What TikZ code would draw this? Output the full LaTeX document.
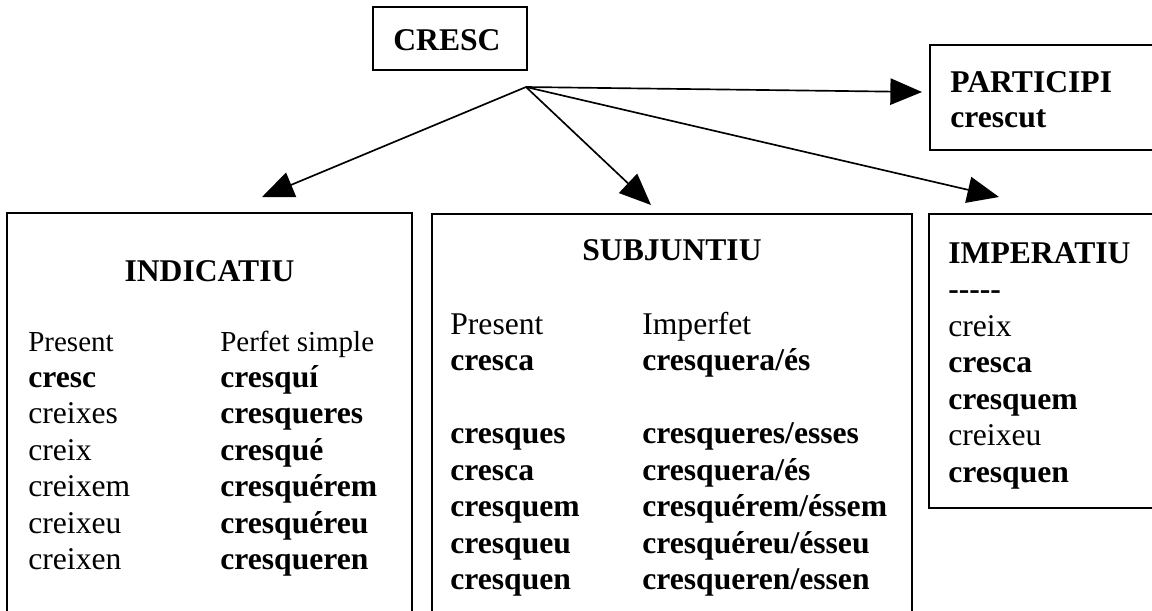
\documentclass[tikz,border=0pt]{standalone}
\usepackage{fontspec}
\setmainfont{Liberation Serif}
\usetikzlibrary{arrows.meta,fit}

\begin{document}
\begin{tikzpicture}[x=0.02cm, y=-0.02cm,
    box/.style={draw, line width=1.6pt, inner sep=0pt},
    word/.style={font=\fontsize{18}{21}\selectfont, anchor=base west, inner sep=0pt},
    bword/.style={word, font=\fontsize{18}{21}\selectfont\bfseries},
    small/.style={word, font=\fontsize{16.5}{19}\selectfont},
    title/.style={bword, anchor=base},
    arr/.style={-{Triangle[length=18pt,width=15pt]}, line width=0.95pt}]
    \useasboundingbox (0,0) rectangle (1152,610);
    \clip (0,0) rectangle (1152,610);
    % boxes
    \node[box, fit={(373,7) (527,70)}] (cresc) {};
    \node[box, fit={(930,45) (1170,150)}] (part) {};
    \node[box, fit={(7,213) (412,640)}] (indic) {};
    \node[box, fit={(432,214) (912,640)}] (subj) {};
    \node[box, fit={(929,214) (1170,508)}] (imper) {};
    % verb and participle
    \node[bword] (crescname) at (393,50) {CRESC};
    \node[bword] (parttitle) at (950,92) {PARTICIPI};
    \node[bword] (partform) at (950,127) {crescut};
    % indicatiu
    \node[title] (indtitle) at (209.5,281) {INDICATIU};
    \node[small] (indpres) at (28,351) {Present};
    \node[small] (indperf) at (220,351) {Perfet simple};
    \foreach \w [count=\i from 0] in {\textbf{cresc}, creixes, creix, creixem, creixeu, creixen}
        \node[word] (indp\i) at (28,387+36.5*\i) {\w};
    \foreach \w [count=\i from 0] in {cresquí, cresqueres, cresqué, cresquérem, cresquéreu, cresqueren}
        \node[bword] (indq\i) at (220,387+36.5*\i) {\w};
    % subjuntiu
    \node[title] (subtitle) at (672,260) {SUBJUNTIU};
    \node[word] (subpres) at (450,334) {Present};
    \node[word] (subimp) at (642,334) {Imperfet};
    \node[bword] (subp0) at (450,370.5) {cresca};
    \node[bword] (subq0) at (642,370.5) {cresquera/és};
    \foreach \w [count=\i] in {cresques, cresca, cresquem, cresqueu, cresquen}
        \node[bword] (subp\i) at (450,407+36.5*\i) {\w};
    \foreach \w [count=\i] in {cresqueres/esses, cresquera/és, cresquérem/éssem, cresquéreu/ésseu, cresqueren/essen}
        \node[bword] (subq\i) at (642,407+36.5*\i) {\w};
    % imperatiu
    \node[bword] (imptitle) at (948,263) {IMPERATIU};
    \node[bword] (impdash) at (948,299.5) {-\kern0pt-\kern0pt-\kern0pt-\kern0pt-};
    \foreach \w [count=\i from 0] in {creix, \textbf{cresca}, \textbf{cresquem}, creixeu, \textbf{cresquen}}
        \node[word] (impf\i) at (948,336+36.5*\i) {\w};
    % arrows
    \coordinate (hub) at (526,87);
    \coordinate (toind) at (262,197);
    \coordinate (tosub) at (651,205);
    \coordinate (toimp) at (999,197);
    \coordinate (topart) at (922,92);
    \draw [arr] (hub) -- (toind);
    \draw [arr] (hub) -- (tosub);
    \draw [arr] (hub) -- (toimp);
    \draw [arr] (hub) -- (topart);
\end{tikzpicture}
\end{document}
